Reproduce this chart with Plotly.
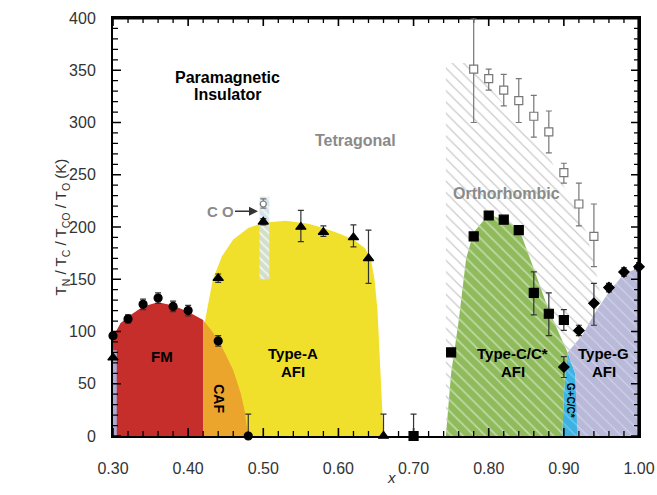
import plotly.graph_objects as go

# ---------------- data ----------------
# Filled circles (T_C / FM, CAF)
circ_x = [0.30, 0.32, 0.34, 0.36, 0.38, 0.40, 0.44, 0.48]
circ_y = [96, 112, 126, 132, 124, 120, 91, 0]
circ_ep = [0, 4, 5, 5, 5, 5, 5, 21]
circ_em = [0, 4, 5, 5, 5, 5, 5, 0]

# Filled triangles (Type-A T_N)
tri_x = [0.30, 0.44, 0.50, 0.55, 0.58, 0.62, 0.64, 0.66]
tri_y = [75, 151, 205, 200, 195, 190, 170, 0]
tri_ep = [0, 4, 3, 16, 6, 12, 27, 21]
tri_em = [0, 4, 3, 14, 4, 9, 24, 0]

# Open circle (T_CO)
co_x = [0.50]
co_y = [222]
co_ep = [5]
co_em = [4]

# Filled squares (Type-C/C* T_N)
sq_x = [0.70, 0.75, 0.78, 0.80, 0.82, 0.84, 0.86, 0.88, 0.90]
sq_y = [0, 80, 191, 211, 207, 197, 137, 117, 111]
sq_ep = [21, 0, 0, 0, 0, 0, 20, 20, 10]
sq_em = [0, 0, 0, 0, 0, 0, 21, 21, 10]

# Diamonds (Type-G T_N)
dia_x = [0.90, 0.92, 0.94, 0.96, 0.98, 1.00]
dia_y = [66, 101, 127, 142, 157, 162]
dia_ep = [10, 5, 19, 4, 4, 4]
dia_em = [10, 5, 21, 4, 4, 4]

# Open squares (T_O, orthorhombic transition)
osq_x = [0.78, 0.80, 0.82, 0.84, 0.86, 0.88, 0.90, 0.92, 0.94]
osq_y = [351, 342, 331, 321, 306, 291, 252, 222, 191]
osq_ep = [49, 9, 15, 21, 20, 20, 9, 20, 31]
osq_em = [51, 11, 15, 21, 20, 20, 10, 21, 29]

# Phase-region boundaries
fm_x = [0.30, 0.30, 0.31, 0.32, 0.34, 0.36, 0.38, 0.40, 0.42, 0.42]
fm_y = [0, 95, 108, 114, 124, 128, 125, 119, 111, 0]

typeA_x = [0.42, 0.42, 0.425, 0.433, 0.445, 0.46, 0.48, 0.50, 0.53, 0.56, 0.58,
           0.60, 0.62, 0.635, 0.643, 0.648, 0.652, 0.656, 0.659, 0.66]
typeA_y = [0, 100, 120, 150, 172, 188, 199, 204, 206, 203, 199,
           194, 188, 180, 170, 150, 120, 60, 20, 0]

caf_x = [0.42, 0.42, 0.43, 0.44, 0.45, 0.46, 0.47, 0.475, 0.478, 0.48]
caf_y = [0, 111, 102, 92, 78, 63, 41, 25, 10, 0]

afm_x = [0.30, 0.30, 0.305, 0.305]
afm_y = [0, 82, 82, 0]

costrip_x = [0.495, 0.495, 0.508, 0.508]
costrip_y = [150, 229, 229, 150]

ortho_x = [0.743, 0.743, 0.78, 0.80, 0.85, 0.88, 0.91, 0.93, 0.945, 0.95, 0.95]
ortho_y = [0, 357, 357, 335, 292, 268, 225, 195, 150, 130, 0]

typeC_x = [0.743, 0.75, 0.76, 0.77, 0.78, 0.80, 0.82, 0.84, 0.86, 0.88, 0.90, 0.905, 0.90, 0.898]
typeC_y = [0, 60, 110, 170, 195, 212, 207, 199, 160, 120, 88, 80, 40, 0]

gc_x = [0.898, 0.90, 0.905, 0.915, 0.918, 0.92]
gc_y = [0, 40, 80, 60, 30, 0]

typeG_x = [0.918, 0.915, 0.905, 0.91, 0.925, 0.94, 0.96, 0.98, 1.00, 1.00]
typeG_y = [0, 60, 80, 84, 97, 116, 138, 155, 161, 0]

x_ticks = [0.30, 0.40, 0.50, 0.60, 0.70, 0.80, 0.90, 1.00]
x_ticklabels = ["0.30", "0.40", "0.50", "0.60", "0.70", "0.80", "0.90", "1.00"]
y_ticks = [0, 50, 100, 150, 200, 250, 300, 350, 400]
x_minor_step = 0.02
y_minor_step = 10
x_range = [0.30, 1.00]
y_range = [0, 400]

# ---------------- layout geometry ----------------
W, H = 657, 495
ML, MR, MT, MB = 113, 18, 18, 59
PW, PH = W - ML - MR, H - MT - MB
DX = (x_range[1] - x_range[0]) / PW    # data units per pixel
DY = (y_range[1] - y_range[0]) / PH
MAJOR_LEN, MINOR_LEN = 8, 5

# ---------------- figure ----------------
fig = go.Figure()

def region(x, y, color=None, pattern=None):
    kw = dict(x=x, y=y, mode="lines", fill="toself", line=dict(width=0),
              hoverinfo="skip", showlegend=False)
    if pattern:
        kw["fillpattern"] = pattern
        kw["fillcolor"] = pattern.get("bgcolor", "rgba(0,0,0,0)")
    else:
        kw["fillcolor"] = color
    fig.add_trace(go.Scatter(**kw))

region(ortho_x, ortho_y, pattern=dict(shape="\\", fgcolor="#c9c9c9",
                                      bgcolor="rgba(255,255,255,0)", size=8, solidity=0.15))
region(fm_x, fm_y, color="#c52e2b")
region(typeA_x, typeA_y, color="#f1e02b")
region(caf_x, caf_y, color="#eba52d")
region(afm_x, afm_y, color="#a9a9d6")
region(costrip_x, costrip_y, pattern=dict(shape="\\", fgcolor="rgba(255,255,255,0.7)",
                                          bgcolor="rgba(205,222,228,0.85)", size=6, solidity=0.3))
region(typeC_x, typeC_y, pattern=dict(shape="\\", fgcolor="rgba(255,255,255,0.45)",
                                      bgcolor="#8fbb5c", size=8, solidity=0.2))
region(gc_x, gc_y, pattern=dict(shape="\\", fgcolor="rgba(255,255,255,0.3)",
                                 bgcolor="#3cb3e3", size=8, solidity=0.15))
region(typeG_x, typeG_y, pattern=dict(shape="\\", fgcolor="rgba(255,255,255,0.35)",
                                      bgcolor="#b9b9d9", size=8, solidity=0.15))

# ---- frame (top/right) and inside tick marks, drawn as thin filled bars ----
def bars(boxes):
    xs, ys = [], []
    for x0, x1, y0, y1 in boxes:
        xs += [x0, x1, x1, x0, x0, None]
        ys += [y0, y0, y1, y1, y0, None]
    fig.add_trace(go.Scatter(x=xs, y=ys, mode="lines", fill="toself", fillcolor="black",
                             line=dict(width=0), showlegend=False, hoverinfo="skip"))

n_xmin = int(round((x_range[1] - x_range[0]) / x_minor_step))
x_minor = [round(x_range[0] + i * x_minor_step, 4) for i in range(n_xmin + 1)]
n_ymin = int(round((y_range[1] - y_range[0]) / y_minor_step))
y_minor = [y_range[0] + i * y_minor_step for i in range(n_ymin + 1)]

boxes = []
for vals, ln, wd in [(x_minor, MINOR_LEN, 1.3), (x_ticks, MAJOR_LEN, 1.6)]:
    for v in vals:
        a, b = v - wd / 2 * DX, v + wd / 2 * DX
        boxes.append((a, b, y_range[0], y_range[0] + ln * DY))
        boxes.append((a, b, y_range[1] - ln * DY, y_range[1]))
for vals, ln, wd in [(y_minor, MINOR_LEN, 1.3), (y_ticks, MAJOR_LEN, 1.6)]:
    for v in vals:
        a, b = v - wd / 2 * DY, v + wd / 2 * DY
        boxes.append((x_range[0], x_range[0] + ln * DX, a, b))
        boxes.append((x_range[1] - ln * DX, x_range[1], a, b))
# top and right frame edges
boxes.append((x_range[0], x_range[1], y_range[1] - 1.6 * DY, y_range[1]))
boxes.append((x_range[1] - 1.6 * DX, x_range[1], y_range[0], y_range[1]))
bars(boxes)

# ---- data points (on the overlay subplot, drawn unclipped) ----
def pts(x, y, ep, em, symbol, size, color="black", line_color="black", err_color="#333"):
    fig.add_trace(go.Scatter(
        x=x, y=y, mode="markers", showlegend=False, cliponaxis=False,
        xaxis="x2", yaxis="y2",
        marker=dict(symbol=symbol, size=size, color=color,
                    line=dict(color=line_color, width=1.2)),
        error_y=dict(type="data", symmetric=False, array=ep, arrayminus=em,
                     color=err_color, thickness=1.2, width=3)))

pts(osq_x, osq_y, osq_ep, osq_em, "square", 8, color="white", line_color="#777", err_color="#777")
pts(co_x, co_y, co_ep, co_em, "circle", 6, color="white", line_color="#777", err_color="#777")
pts(circ_x, circ_y, circ_ep, circ_em, "circle", 8)
pts(tri_x, tri_y, tri_ep, tri_em, "triangle-up", 9)
pts(sq_x, sq_y, sq_ep, sq_em, "square", 9)
pts(dia_x, dia_y, dia_ep, dia_em, "diamond", 8)

FONT = "Liberation Sans, Arial, sans-serif"

def label(x, y, text, size=15, color="black", angle=0, bold=True):
    t = f"<b>{text}</b>" if bold else text
    fig.add_annotation(x=x, y=y, text=t, showarrow=False, textangle=angle,
                       font=dict(family=FONT, size=size, color=color))

label(0.453, 343, "Paramagnetic", 16)
label(0.453, 327, "Insulator", 16)
label(0.623, 283, "Tetragonal", 16, color="#8a8a8a")
label(0.823, 232, "Orthorhombic", 16, color="#8a8a8a")
label(0.365, 76, "FM", 15)
label(0.44, 36, "CAF", 14, angle=90)
label(0.54, 79, "Type-A", 15)
label(0.54, 62, "AFI", 15)
label(0.832, 79, "Type-C/C*", 15)
label(0.832, 62, "AFI", 15)
label(0.953, 79, "Type-G", 15)
label(0.953, 62, "AFI", 15)
label(0.909, 34, "G+C/C*", 10, angle=90)

fig.add_annotation(x=0.493, y=215, text="<b>C O</b>", showarrow=True, ax=-38, ay=0,
                   arrowhead=2, arrowsize=1.2, arrowwidth=1.5, arrowcolor="#333",
                   font=dict(family=FONT, size=15, color="#8a8a8a"))
fig.add_annotation(x=0.289, y=23, text="<b>AFM</b>", showarrow=True, ax=-42, ay=0,
                   arrowhead=2, arrowsize=1.2, arrowwidth=1.5, arrowcolor="#222",
                   font=dict(family=FONT, size=15, color="black"))

fig.add_annotation(xref="paper", yref="paper", x=-0.12, y=0.5,
                   text="T<sub>N</sub> / T<sub>C</sub> / T<sub>CO</sub> / T<sub>O</sub> (K)",
                   textangle=-90, showarrow=False,
                   font=dict(family=FONT, size=15, color="#333"))
fig.add_annotation(x=0.67, yref="paper", y=-0.125, text="<i>x</i>", showarrow=False,
                   font=dict(family=FONT, size=15, color="#333"))

main_axis = dict(showline=True, linecolor="black", linewidth=2, mirror=True,
                 ticks="", showgrid=False, zeroline=False, automargin=False,
                 showticklabels=False)
label_axis = dict(showline=False, ticks="outside", tickcolor="rgba(0,0,0,0)",
                  showgrid=False, zeroline=False, automargin=False,
                  tickfont=dict(family=FONT, size=16, color="#333"))

fig.update_layout(
    template="none", width=W, height=H,
    margin=dict(l=ML, r=MR, t=MT, b=MB, autoexpand=False),
    plot_bgcolor="white", paper_bgcolor="white", showlegend=False,
    xaxis=dict(range=x_range, **main_axis),
    yaxis=dict(range=y_range, **main_axis),
    xaxis2=dict(range=x_range, tickvals=x_ticks, ticktext=x_ticklabels,
                overlaying="x", anchor="y2", side="bottom", ticklen=18, **label_axis),
    yaxis2=dict(range=y_range, tickvals=y_ticks, overlaying="y", anchor="x2",
                side="left", ticklen=13, **label_axis),
)

fig.write_html("out.html", config={"displayModeBar": False},
               post_script="document.body.style.margin='0';"
                           "document.body.style.overflow='hidden';")
